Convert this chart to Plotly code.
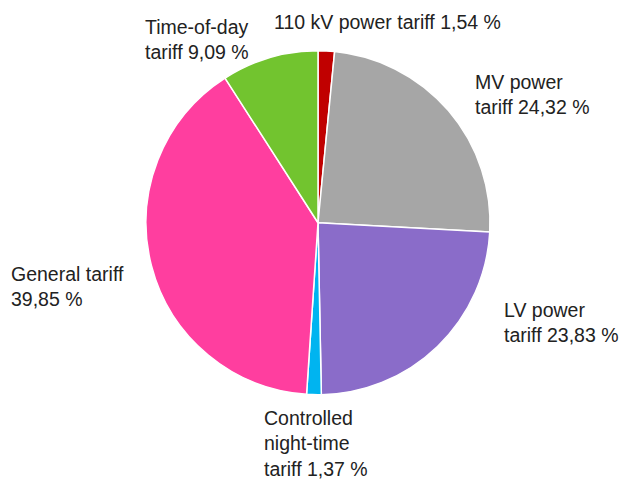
import plotly.graph_objects as go

categories = ["110 kV power tariff", "MV power<br>tariff", "LV power<br>tariff",
              "Controlled<br>night-time<br>tariff", "General tariff<br>", "Time-of-day<br>tariff"]
values = [1.54, 24.32, 23.83, 1.37, 39.85, 9.09]
value_labels = ["1,54 %", "24,32 %", "23,83 %", "1,37 %", "39,85 %", "9,09 %"]
colors = ["#C00000", "#A6A6A6", "#8A6CC9", "#00B4F0", "#FF3E9F", "#72C42F"]

W, H = 622, 479

fig = go.Figure(go.Pie(
    labels=[c.replace("<br>", " ") for c in categories],
    values=values,
    sort=False,
    direction="clockwise",
    rotation=0,
    textinfo="none",
    hoverinfo="label+percent",
    marker=dict(colors=colors, line=dict(color="white", width=1.5)),
    domain=dict(x=[146 / W, 490 / W], y=[84 / H, 428.5 / H]),
    showlegend=False,
))

# label anchor positions in pixels (left x, block middle y)
label_pos = [(272, 22), (473, 94), (502, 322), (262, 443), (9, 286), (143, 39)]

annotations = []
for cat, vl, (px, py) in zip(categories, value_labels, label_pos):
    if cat.endswith("<br>"):
        text = cat + vl
    else:
        text = cat + " " + vl
    annotations.append(dict(
        text=text, x=px / W, y=1 - py / H, xref="paper", yref="paper",
        xanchor="left", yanchor="middle", align="left", showarrow=False,
        font=dict(family="Liberation Sans, Arial, sans-serif", size=19.5, color="#222222"),
    ))

fig.update_layout(
    width=W, height=H,
    margin=dict(l=0, r=0, t=0, b=0),
    paper_bgcolor="white", plot_bgcolor="white",
    annotations=annotations,
)

fig.write_html("out.html", config={"displayModeBar": False},
               post_script="document.body.style.margin='0';document.body.style.overflow='hidden';")
